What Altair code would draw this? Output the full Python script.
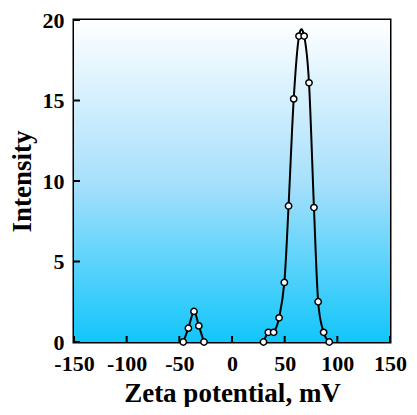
import altair as alt
import pandas as pd

zeta = [-46.3, -41.4, -36.1, -31.5, -26.6,
        29.9, 34.5, 39.5, 44.7, 49.7, 53.7, 58.6, 63.6, 68.5, 73.1, 77.8, 81.8, 87.0, 92.3]
intensity = [0.0, 0.86, 1.9, 1.0, 0.0,
             0.0, 0.6, 0.6, 1.5, 3.7, 8.45, 15.1, 19.0, 19.0, 16.1, 8.35, 2.5, 0.6, 0.0]
peak = ["a"] * 5 + ["b"] * 14
x_ticks = [-150, -100, -50, 0, 50, 100, 150]
y_ticks = [0, 5, 10, 15, 20]

df = pd.DataFrame({"zeta": zeta, "intensity": intensity, "peak": peak})
xt = pd.DataFrame({"v": x_ticks})
yt = pd.DataFrame({"v": y_ticks})

W, H = 316, 322
FONT = "Liberation Serif"
TICK = 6

bg = alt.Chart(df).mark_rect(
    fill=alt.Gradient(
        gradient="linear", x1=0, x2=0, y1=0, y2=1,
        stops=[alt.GradientStop(offset=0, color="#ffffff"),
               alt.GradientStop(offset=0.5, color="#a8e0fb"),
               alt.GradientStop(offset=1, color="#12c6fa")]),
).encode(x=alt.value(0), x2=alt.value(W), y=alt.value(0), y2=alt.value(H))

xscale = alt.Scale(domain=[-150, 150], nice=False)
yscale = alt.Scale(domain=[0, 20], nice=False)

xenc = alt.X("zeta:Q", scale=xscale,
             axis=alt.Axis(values=x_ticks, title="Zeta potential, mV", grid=False,
                           ticks=False, tickSize=0, domain=False, labelPadding=11,
                           titlePadding=6, labelOverlap=False, labelFlush=False,
                           labelExpr="'' + datum.value"))
yenc = alt.Y("intensity:Q", scale=yscale,
             axis=alt.Axis(values=y_ticks, title="Intensity", grid=False,
                           ticks=False, tickSize=0, domain=False, labelPadding=10,
                           titlePadding=6, labelOverlap=False, labelFlush=False))

xtick = alt.Chart(xt).mark_rule(color="black", strokeWidth=2).encode(
    x=alt.X("v:Q", scale=xscale), y=alt.value(H), y2=alt.value(H - TICK))
ytick = alt.Chart(yt).mark_rule(color="black", strokeWidth=2).encode(
    y=alt.Y("v:Q", scale=yscale), x=alt.value(0), x2=alt.value(TICK))

line = alt.Chart(df).mark_line(color="black", strokeWidth=2, interpolate="cardinal").encode(
    x=xenc, y=yenc, detail="peak:N")
pts = alt.Chart(df).mark_point(shape="circle", filled=True, fill="white", stroke="black",
                               strokeWidth=1.5, size=40, opacity=1).encode(x="zeta:Q", y="intensity:Q")

chart = alt.layer(bg, xtick, ytick, line, pts).properties(
    width=W, height=H,
    autosize=alt.AutoSizeParams(type="none"),
    padding={"left": 66, "top": 12, "right": 19, "bottom": 65},
).configure_view(stroke="black", strokeWidth=3, fill=None).configure_axis(
    labelFont=FONT, titleFont=FONT, labelFontSize=22, titleFontSize=27,
    labelFontWeight="bold", titleFontWeight="bold", labelColor="black", titleColor="black",
)

chart.save("out.html", embed_options={"renderer": "svg", "actions": False})
